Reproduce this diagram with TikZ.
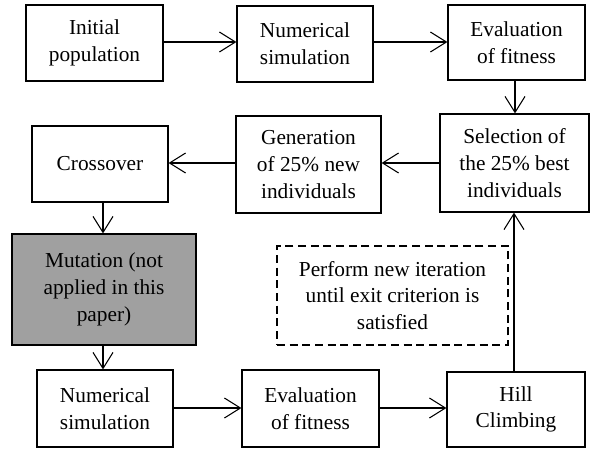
\documentclass[tikz,border=0pt]{standalone}
\usepackage{fontspec}
\setmainfont{Liberation Serif}
\usetikzlibrary{arrows.meta}
\definecolor{mutgray}{RGB}{160,160,160}
\tikzset{
  x=0.75pt, y=-0.75pt,
  box/.style={draw, line width=0.9pt, align=center, inner sep=0pt,
    font=\fontsize{16pt}{20pt}\selectfont},
  conn/.style={line width=0.8pt, -{Straight Barb[length=12pt,width=15pt,line width=0.8pt]}},
}
\newcommand{\bx}[6]{% name, x1, y1, x2, y2, text
  \node[box, minimum width={(#4-#2)*0.75pt}, minimum height={(#5-#3)*0.75pt}] (#1) at ({(#2+#4)/2},{(#3+#5)/2}) {#6};}
\begin{document}
\begin{tikzpicture}
\useasboundingbox (0,0) rectangle (591,450);
\bx{init}{26}{5}{163}{81}{Initial\\population}
\bx{numa}{237}{6}{373}{82}{Numerical\\simulation}
\bx{evala}{448}{5}{585}{80}{Evaluation\\of fitness}
\bx{sel}{440}{114}{589}{212}{Selection of\\the 25\% best\\individuals}
\bx{gen}{236}{116}{381}{213}{Generation\\of 25\% new\\individuals}
\bx{cross}{32}{126}{168}{202}{Crossover}
\node[box, fill=mutgray, minimum width={184*0.75pt}, minimum height={111*0.75pt}] (mut) at (104,289.5) {Mutation (not\\applied in this\\paper)};
\node[box, dashed, dash pattern=on 6pt off 3.5pt, minimum width={231*0.75pt}, minimum height={99*0.75pt}] (note) at (392.5,295.5) {Perform new iteration\\until exit criterion is\\satisfied};
\bx{numb}{37}{370}{173}{447}{Numerical\\simulation}
\bx{evalb}{242}{370}{379}{447}{Evaluation\\of fitness}
\bx{hill}{447}{372}{585}{447}{Hill\\Climbing}

\draw[conn] (init.east |- 0,42) -- (numa.west |- 0,42);
\draw[conn] (numa.east |- 0,42) -- (evala.west |- 0,42);
\draw[conn] (515,0 |- evala.south) -- (515,0 |- sel.north);
\draw[conn] (sel.west |- 0,163) -- (gen.east |- 0,163);
\draw[conn] (gen.west |- 0,163) -- (cross.east |- 0,163);
\draw[conn] (103,0 |- cross.south) -- (103,0 |- mut.north);
\draw[conn] (103,0 |- mut.south) -- (103,0 |- numb.north);
\draw[conn] (numb.east |- 0,408) -- (evalb.west |- 0,408);
\draw[conn] (evalb.east |- 0,408) -- (hill.west |- 0,408);
\draw[conn] (514,0 |- hill.north) -- (514,0 |- sel.south);
\end{tikzpicture}
\end{document}
